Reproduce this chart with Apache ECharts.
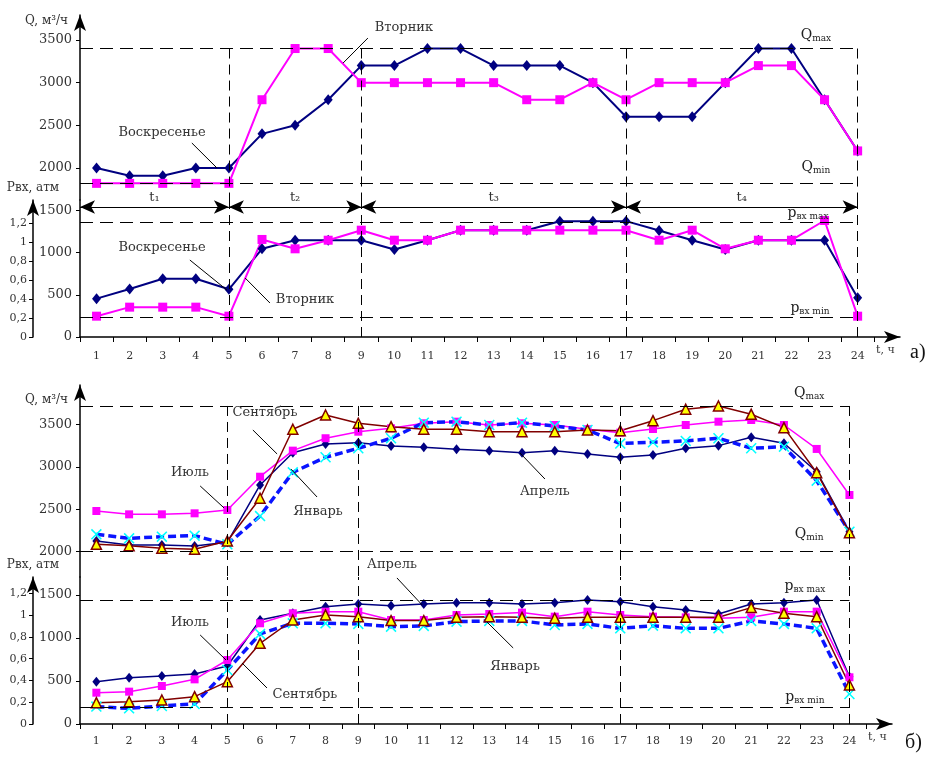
<!DOCTYPE html>
<html><head><meta charset="utf-8">
<script src="https://cdn.jsdelivr.net/npm/echarts/dist/echarts.min.js"></script>
<style>html,body{margin:0;padding:0;background:#fff}#c{width:932px;height:763px}</style>
</head><body><div id="c"></div>
<script>
// ---- data ----
const hours = [1,2,3,4,5,6,7,8,9,10,11,12,13,14,15,16,17,18,19,20,21,22,23,24];
const hourTickBounds = [0.5,1.5,2.5,3.5,4.5,5.5,6.5,7.5,8.5,9.5,10.5,11.5,12.5,13.5,14.5,15.5,16.5,17.5,18.5,19.5,20.5,21.5,22.5,23.5,24.5];
const qTicks = [2000,2500,3000,3500];
const pTicks = [0,500,1000,1500];
const mpaTicks = [0,0.2,0.4,0.6,0.8,1,1.2];
const stageBounds = [5,9,17,24];
const intervalNames = ['t₁','t₂','t₃','t₄'];

// panel a: Sunday / Tuesday
const aQSunday  = [2000,1910,1910,2000,2000,2400,2500,2800,3200,3200,3400,3400,3200,3200,3200,3000,2600,2600,2600,3000,3400,3400,2800,2200];
const aQTuesday = [1820,1820,1820,1820,1820,2800,3400,3400,3000,3000,3000,3000,3000,2800,2800,3000,2800,3000,3000,3000,3200,3200,2800,2200];
const aPSunday  = [455,570,690,690,566,1046,1148,1148,1148,1038,1148,1267,1267,1267,1374,1374,1374,1263,1148,1038,1148,1148,1148,465];
const aPTuesday = [247,354,354,354,247,1157,1046,1148,1267,1148,1148,1267,1267,1267,1267,1267,1267,1148,1267,1046,1148,1148,1382,247];
const aLimits = {qMax:3400, qMin:1820, pMax:1364, pMin:237};

// panel b: April / July / September / January
const bQApril = [2126,2079,2079,2067,2111,2786,3166,3269,3284,3245,3230,3206,3190,3166,3190,3150,3112,3139,3218,3249,3347,3277,2942,2236];
const bQJuly  = [2479,2440,2440,2452,2491,2883,3190,3336,3413,3453,3512,3531,3492,3512,3492,3442,3402,3445,3492,3531,3551,3492,3210,2668];
const bQSept  = [2087,2071,2040,2028,2126,2629,3442,3610,3512,3472,3442,3442,3413,3413,3413,3433,3425,3543,3677,3716,3618,3461,2930,2224];
const bQJan   = [2205,2158,2177,2189,2087,2420,2935,3112,3218,3336,3519,3531,3492,3519,3480,3433,3273,3289,3304,3336,3218,3237,2836,2236];
const bPApril = [492,538,558,581,674,1209,1287,1364,1395,1376,1395,1411,1411,1395,1411,1442,1422,1364,1326,1279,1395,1411,1442,550];
const bPJuly  = [364,376,442,519,744,1171,1287,1306,1306,1209,1209,1267,1279,1295,1248,1306,1267,1248,1240,1229,1240,1306,1306,543];
const bPSept  = [248,260,279,318,492,938,1209,1267,1248,1202,1202,1240,1248,1240,1229,1240,1240,1240,1240,1240,1353,1287,1248,453];
const bPJan   = [202,182,209,233,628,1047,1171,1171,1163,1132,1140,1190,1198,1198,1151,1163,1112,1143,1112,1112,1198,1163,1112,349];
const bLimits = {qMax:3716, qMin:2000, pMax:1434, pMin:194};

// ---- helpers ----
const FONT = 'DejaVu Serif';
const pts = arr => hours.map((h,i)=>[h, arr[i]]);
const seg = (x1,y1,x2,y2,extra) => [Object.assign({coord:[x1,y1]}, extra||{}), {coord:[x2,y2]}];
const dash = {color:'#000', width:1, type:[13,7]};
const leader = {color:'#000', width:1, type:'solid'};
const rich = {
  m:{fontFamily:FONT, fontSize:14, color:'#222'},
  s:{fontFamily:FONT, fontSize:9, color:'#222', padding:[7,0,0,0]}
};
function txt(x,y,text,size){
  return {coord:[x,y], symbol:'rect', symbolSize:1, itemStyle:{color:'rgba(0,0,0,0)'},
    label:{show:true, position:'inside', formatter:text, color:'#333', fontFamily:FONT, fontSize:size||13, rich:rich}};
}
function markLines(lines){
  return {silent:true, symbol:'none', animation:false, label:{show:false}, data:lines};
}
function markPoints(list){
  return {silent:true, animation:false, data:list};
}
function xAxisDef(grid, show, max, margin){
  return {type:'value', gridIndex:grid, min:0.5, max:max, show:show,
    name:'t, ч', nameLocation:'end', nameGap:-24,
    nameTextStyle:{fontFamily:FONT, fontSize:11, color:'#333', verticalAlign:'top', padding:[8,0,0,0]},
    axisLine:{show:true, symbol:['none','arrow'], symbolSize:[9,16], lineStyle:{color:'#000', width:1.5}},
    axisTick:{show:true, customValues:hourTickBounds, length:5, lineStyle:{color:'#000'}},
    axisLabel:{customValues:hours, margin:margin, fontFamily:FONT, fontSize:11, color:'#333', formatter:v=>String(v)},
    splitLine:{show:false}};
}
function yAxisDef(grid, min, max, ticks, arrow, extra){
  return Object.assign({type:'value', gridIndex:grid, min:min, max:max,
    axisLine:{show:true, symbol:arrow?['none','arrow']:'none', symbolSize:[9,16], lineStyle:{color:'#000', width:1.5}},
    axisTick:{show:true, customValues:ticks, length:4, lineStyle:{color:'#000'}},
    axisLabel:{customValues:ticks, margin:8, fontFamily:FONT, fontSize:13, color:'#333', formatter:v=>String(v)},
    splitLine:{show:false}}, extra||{});
}
function outerAxis(grid, max){
  return {type:'value', gridIndex:grid, position:'left', offset:47, min:0, max:max,
    name:'Рвх, атм', nameLocation:'end', nameGap:6,
    nameTextStyle:{fontFamily:FONT, fontSize:12, color:'#333', align:'center', verticalAlign:'bottom'},
    axisLine:{show:true, symbol:['none','arrow'], symbolSize:[9,16], lineStyle:{color:'#000', width:1.5}},
    axisTick:{show:true, customValues:mpaTicks, length:4, lineStyle:{color:'#000'}},
    axisLabel:{customValues:mpaTicks, margin:6, fontFamily:FONT, fontSize:11, color:'#333',
      formatter:v=>String(Math.round(v*10)/10).replace('.',',')},
    splitLine:{show:false}};
}
const qName = {name:'Q, м³/ч', nameLocation:'end',
  nameTextStyle:{fontFamily:FONT, fontSize:12, color:'#333', align:'right', verticalAlign:'middle', padding:[0,12,0,0]}};

// panel ranges
const aQMin = 1625, aQMax = 3793, aPMax = 1625, aMpaMax = 1.447;
const bQMin = 1702, bQMax = 3963, bPMax = 1709, bMpaMax = 1.35;
const aArrowP = 1542;

// reference lines
function qLines(L, qMin){
  const arr = [seg(0.5,L.qMax,24,L.qMax,{lineStyle:dash}), seg(0.5,L.qMin,24,L.qMin,{lineStyle:dash})];
  stageBounds.forEach(h=>arr.push(seg(h,L.qMax,h,qMin,{lineStyle:{color:'#000',width:1,type:[10,6]}})));
  return arr;
}
function pLines(L, pMax){
  const arr = [seg(0.5,L.pMax,24,L.pMax,{lineStyle:dash}), seg(0.5,L.pMin,24,L.pMin,{lineStyle:dash})];
  stageBounds.forEach(h=>arr.push(seg(h,0,h,pMax,{lineStyle:{color:'#000',width:1,type:[10,6]}})));
  return arr;
}

// ---- panel a series ----
const navyA = {type:'line', symbol:'diamond', symbolSize:[9,11], lineStyle:{color:'#000080', width:2}, itemStyle:{color:'#000080'}};
const pinkA = {type:'line', symbol:'rect', symbolSize:9, lineStyle:{color:'#ff00ff', width:2}, itemStyle:{color:'#ff00ff'}};

const aArrowLines = [];
const aBounds = [0.5].concat(stageBounds);
for (let i=0;i<4;i++){
  aArrowLines.push([{coord:[aBounds[i],aArrowP], symbol:'arrow', symbolSize:[10,15],
      lineStyle:{color:'#000',width:1,type:'solid'},
      label:{show:true, position:'middle', formatter:intervalNames[i], fontFamily:FONT, fontSize:13, color:'#333', distance:3}},
    {coord:[aBounds[i+1],aArrowP], symbol:'arrow', symbolSize:[10,15]}]);
}

const series = [
  Object.assign({}, navyA, {name:'Воскресенье Q', xAxisIndex:0, yAxisIndex:0, data:pts(aQSunday),
    markLine: markLines(qLines(aLimits, aQMin).concat([
      seg(3.88,2293,4.64,2000,{lineStyle:leader}),
      seg(9.20,3523,8.45,3230,{lineStyle:leader})])),
    markPoint: markPoints([
      txt(2.98,2410,'Воскресенье'),
      txt(10.29,3641,'Вторник'),
      txt(22.74,3559,'{m|Q}{s|max}'),
      txt(22.74,2012,'{m|Q}{s|min}')])}),
  Object.assign({}, pinkA, {name:'Вторник Q', xAxisIndex:0, yAxisIndex:0, data:pts(aQTuesday)}),
  Object.assign({}, navyA, {name:'Воскресенье P', xAxisIndex:1, yAxisIndex:1, data:pts(aPSunday),
    markLine: {silent:true, animation:false, symbol:'none', label:{show:false},
      data: pLines(aLimits, aPMax).concat(aArrowLines).concat([
        seg(3.82,913,4.94,557,{lineStyle:leader}),
        seg(5.49,700,6.24,403,{lineStyle:leader})])},
    markPoint: markPoints([
      txt(2.98,1056,'Воскресенье'),
      txt(7.30,439,'Вторник'),
      txt(22.5,1471,'{m|p}{s|вх max}'),
      txt(22.56,344,'{m|p}{s|вх min}')])}),
  Object.assign({}, pinkA, {name:'Вторник P', xAxisIndex:1, yAxisIndex:1, data:pts(aPTuesday)})
];

// ---- panel b series ----
const xSym = 'path://M0,1L1,0L5,4L9,0L10,1L6,5L10,9L9,10L5,6L1,10L0,9L4,5Z';
const styleB = {
  apr:{type:'line', symbol:'diamond', symbolSize:[8,10], lineStyle:{color:'#000080', width:1.5}, itemStyle:{color:'#000080'}},
  jul:{type:'line', symbol:'rect', symbolSize:8, lineStyle:{color:'#ff00ff', width:1.5}, itemStyle:{color:'#ff00ff'}},
  jan:{type:'line', symbol:xSym, symbolSize:11, lineStyle:{color:'#0a14ff', width:3.5, type:[8,4]}, itemStyle:{color:'#00ffff'}},
  sep:{type:'line', symbol:'triangle', symbolSize:10, lineStyle:{color:'#800000', width:1.5}, itemStyle:{color:'#ffff00', borderColor:'#800000', borderWidth:1.5}}
};
series.push(
  Object.assign({}, styleB.apr, {name:'Апрель Q', xAxisIndex:2, yAxisIndex:3, data:pts(bQApril),
    markLine: markLines(qLines(bLimits, bQMin).concat([
      seg(5.78,3433,6.52,3151,{lineStyle:leader}),
      seg(4.17,2774,4.90,2515,{lineStyle:leader}),
      seg(6.94,2974,7.74,2644,{lineStyle:leader}),
      seg(13.94,3162,14.70,2856,{lineStyle:leader})])),
    markPoint: markPoints([
      txt(6.15,3633,'Сентябрь'),
      txt(3.86,2927,'Июль'),
      txt(7.77,2468,'Январь'),
      txt(14.7,2703,'Апрель'),
      txt(10.03,1843,'Апрель'),
      txt(22.77,3870,'{m|Q}{s|max}'),
      txt(22.77,2209,'{m|Q}{s|min}')])}),
  Object.assign({}, styleB.jul, {name:'Июль Q', xAxisIndex:2, yAxisIndex:3, data:pts(bQJuly)}),
  Object.assign({}, styleB.jan, {name:'Январь Q', xAxisIndex:2, yAxisIndex:3, data:pts(bQJan)}),
  Object.assign({}, styleB.sep, {name:'Сентябрь Q', xAxisIndex:2, yAxisIndex:3, data:pts(bQSept)}),
  Object.assign({}, styleB.apr, {name:'Апрель P', xAxisIndex:3, yAxisIndex:4, data:pts(bPApril),
    markLine: markLines(pLines(bLimits, bPMax).concat([
      seg(10.18,1698,10.95,1384,{lineStyle:leader}),
      seg(12.93,1186,13.73,884,{lineStyle:leader}),
      seg(4.17,1035,4.96,744,{lineStyle:leader}),
      seg(6.21,419,5.45,709,{lineStyle:leader})])),
    markPoint: markPoints([
      txt(13.79,663,'Январь'),
      txt(3.86,1174,'Июль'),
      txt(7.37,337,'Сентябрь'),
      txt(22.64,1605,'{m|p}{s|вх max}'),
      txt(22.64,314,'{m|p}{s|вх min}')])}),
  Object.assign({}, styleB.jul, {name:'Июль P', xAxisIndex:3, yAxisIndex:4, data:pts(bPJuly)}),
  Object.assign({}, styleB.jan, {name:'Январь P', xAxisIndex:3, yAxisIndex:4, data:pts(bPJan)}),
  Object.assign({}, styleB.sep, {name:'Сентябрь P', xAxisIndex:3, yAxisIndex:4, data:pts(bPSept)})
);
series.forEach(s=>{ s.animation = false; s.silent = true; s.z = s.z||2; });

const option = {
  animation:false,
  backgroundColor:'#fff',
  grid:[
    {left:80, top:15, width:820, height:185},
    {left:80, top:200, width:820, height:137},
    {left:80, top:385, width:812, height:192},
    {left:80, top:577, width:812, height:147}
  ],
  xAxis:[
    xAxisDef(0, false, 25.28, 14),
    xAxisDef(1, true, 25.28, 14),
    xAxisDef(2, false, 25.3, 12),
    xAxisDef(3, true, 25.3, 12)
  ],
  yAxis:[
    yAxisDef(0, aQMin, aQMax, qTicks, true, Object.assign({nameGap:-6}, qName)),
    yAxisDef(1, 0, aPMax, pTicks, false),
    outerAxis(1, aMpaMax),
    yAxisDef(2, bQMin, bQMax, qTicks, true, Object.assign({nameGap:-15}, qName)),
    yAxisDef(3, 0, bPMax, pTicks, false),
    outerAxis(3, bMpaMax)
  ],
  graphic:[
    {type:'text', left:910, top:343, style:{text:'а)', font:'20px "Liberation Serif"', fill:'#111'}},
    {type:'text', left:905, top:733, style:{text:'б)', font:'20px "Liberation Serif"', fill:'#111'}}
  ],
  series:series
};
const chart = echarts.init(document.getElementById('c'), null, {renderer:'canvas'});
chart.setOption(option);
</script></body></html>
